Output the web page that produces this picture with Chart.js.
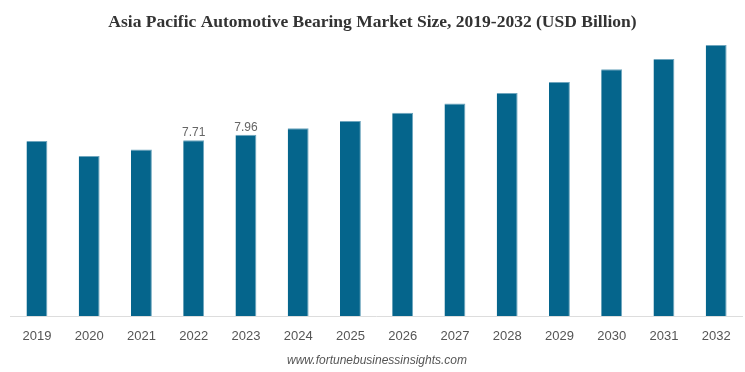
<!DOCTYPE html>
<html>
<head>
<meta charset="utf-8">
<script src="https://cdn.jsdelivr.net/npm/chart.js@4/dist/chart.umd.min.js"></script>
<style>
  html, body { margin: 0; padding: 0; background: #ffffff; }
  #wrap { width: 745px; height: 372px; position: relative; }
</style>
</head>
<body>
<div id="wrap"><canvas id="c" width="745" height="372"></canvas></div>
<script>
const years = ['2019','2020','2021','2022','2023','2024','2025','2026','2027','2028','2029','2030','2031','2032'];
const marketSize = [7.68, 7.02, 7.31, 7.71, 7.96, 8.24, 8.56, 8.92, 9.33, 9.79, 10.27, 10.83, 11.28, 11.89];
const shownLabels = [null, null, null, '7.71', '7.96', null, null, null, null, null, null, null, null, null];
const titleText = 'Asia Pacific Automotive Bearing Market Size, 2019-2032 (USD Billion)';
const sourceText = 'www.fortunebusinessinsights.com';

const valueLabels = {
  id: 'valueLabels',
  afterDatasetsDraw(chart) {
    const ctx = chart.ctx;
    const meta = chart.getDatasetMeta(0);
    ctx.save();
    ctx.font = '12px "Liberation Sans", Arial, sans-serif';
    ctx.fillStyle = '#666666';
    ctx.textAlign = 'center';
    ctx.textBaseline = 'alphabetic';
    meta.data.forEach((bar, i) => {
      if (shownLabels[i]) {
        ctx.fillText(shownLabels[i], bar.x, bar.y - 4);
      }
    });
    ctx.restore();
  }
};

const textBlocks = {
  id: 'textBlocks',
  afterDraw(chart) {
    const ctx = chart.ctx;
    ctx.save();
    ctx.textAlign = 'center';
    ctx.textBaseline = 'alphabetic';
    ctx.font = 'bold 17.5px "Liberation Serif", "Times New Roman", serif';
    ctx.fillStyle = '#333333';
    ctx.fillText(titleText, 372.5, 27);
    ctx.font = 'italic 12px "Liberation Sans", Arial, sans-serif';
    ctx.fillStyle = '#555555';
    ctx.textBaseline = 'middle';
    ctx.fillText(sourceText, 377, 361);
    ctx.restore();
  }
};

new Chart(document.getElementById('c'), {
  type: 'bar',
  data: {
    labels: years,
    datasets: [{
      data: marketSize,
      backgroundColor: '#05658C',
      borderColor: '#6fa6be',
      borderWidth: { top: 1, right: 1, left: 0, bottom: 0 },
      borderSkipped: 'bottom',
      barPercentage: 0.4,
      categoryPercentage: 1.0
    }]
  },
  options: {
    responsive: false,
    animation: false,
    layout: { padding: { left: 10.8, right: 2.7, top: 42.6, bottom: 14.4 } },
    plugins: {
      legend: { display: false },
      tooltip: { enabled: false },
      title: { display: false }
    },
    scales: {
      x: {
        grid: { display: false, drawTicks: false },
        border: { display: true, color: '#dddddd', width: 1 },
        ticks: {
          color: '#555555',
          padding: 13,
          font: { family: '"Liberation Sans", Arial, sans-serif', size: 13 }
        }
      },
      y: {
        display: false,
        min: 0,
        max: 12
      }
    }
  },
  plugins: [valueLabels, textBlocks]
});
</script>
</body>
</html>
